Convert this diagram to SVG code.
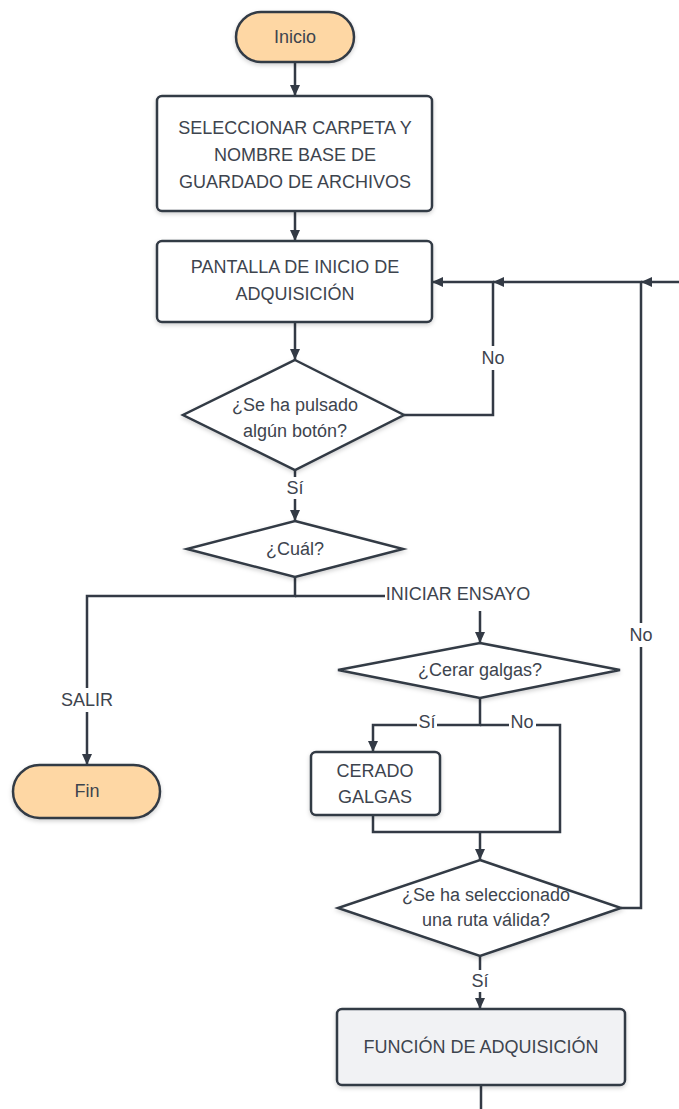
<svg xmlns="http://www.w3.org/2000/svg" width="679" height="1109" viewBox="0 0 679 1109">
  <style>
    .shape { fill: #ffffff; stroke: #333a45; stroke-width: 2.5; filter: url(#shadow); }
    .term { fill: #fed7a4; }
    .proc2 { fill: #f1f2f4; }
    .t { font-family: "Liberation Sans", Arial, sans-serif; font-size: 18px; fill: #3d444e; text-anchor: middle; }
    .conn path { fill: none; stroke: #333a45; stroke-width: 2.5; }
    .arrow { marker-end: url(#ah); }
    .lblbg { fill: #ffffff; }
  </style>
  <defs>
    <filter id="shadow" x="-10%" y="-10%" width="120%" height="130%">
      <feDropShadow dx="0" dy="2" stdDeviation="2" flood-color="#000000" flood-opacity="0.18"/>
    </filter>
    <marker id="ah" markerUnits="userSpaceOnUse" markerWidth="12" markerHeight="12" viewBox="0 0 12 12" refX="11" refY="6" orient="auto">
      <path d="M0,1 L11,6 L0,11 Z" fill="#333a45"/>
    </marker>
  </defs>

  <!-- connectors -->
  <g id="connectors" class="conn">
    <path class="arrow" d="M295,62 V96"/>
    <path class="arrow" d="M295,211 V241"/>
    <path class="arrow" d="M295,322 V360"/>
    <path class="arrow" d="M404,415 H493 V282 H432"/>
    <path class="arrow" d="M679,282 H641"/>
    <path class="arrow" d="M621,908 H641 V282 H493"/>
    <path class="arrow" d="M295,470 V521"/>
    <path class="arrow" d="M295,577 V596 H87 V765"/>
    <path class="arrow" d="M295,596 H480 V643"/>
    <path class="arrow" d="M480,698 V725 H373 V752"/>
    <path d="M480,725 H560 V832 H480"/>
    <path d="M373,815 V832 H480"/>
    <path class="arrow" d="M480,832 V860"/>
    <path class="arrow" d="M480,956 V1009"/>
    <path d="M481,1085 V1109"/>

    <!-- connector labels -->
    <rect class="lblbg" x="479" y="346" width="28" height="24"/>
    <text class="t" x="493" y="364">No</text>
    <rect class="lblbg" x="627" y="623" width="28" height="24"/>
    <text class="t" x="641" y="641">No</text>
    <rect class="lblbg" x="285" y="477" width="20" height="22"/>
    <text class="t" x="295" y="494">Sí</text>
    <rect class="lblbg" x="60" y="688" width="54" height="24"/>
    <text class="t" x="87" y="706">SALIR</text>
    <rect class="lblbg" x="385" y="583" width="147" height="28"/>
    <text class="t" x="458" y="600">INICIAR ENSAYO</text>
    <rect class="lblbg" x="417" y="712" width="20" height="22"/>
    <text class="t" x="427" y="728">Sí</text>
    <rect class="lblbg" x="509" y="712" width="27" height="22"/>
    <text class="t" x="522" y="728">No</text>
    <rect class="lblbg" x="470" y="970" width="20" height="22"/>
    <text class="t" x="480" y="987">Sí</text>
  </g>

  <g id="inicio">
    <rect class="shape term" x="236" y="12" width="118" height="50" rx="25"/>
    <text class="t" x="295" y="43">Inicio</text>
  </g>

  <g id="seleccionar">
    <rect class="shape" x="157" y="96" width="275" height="115" rx="5"/>
    <text class="t" x="295" y="134">SELECCIONAR CARPETA Y</text>
    <text class="t" x="295" y="161">NOMBRE BASE DE</text>
    <text class="t" x="295" y="188">GUARDADO DE ARCHIVOS</text>
  </g>

  <g id="pantalla">
    <rect class="shape" x="157" y="241" width="275" height="81" rx="5"/>
    <text class="t" x="295" y="273">PANTALLA DE INICIO DE</text>
    <text class="t" x="295" y="300">ADQUISICIÓN</text>
  </g>

  <g id="pulsado">
    <polygon class="shape" points="295,360 404,415 295,470 183,415"/>
    <text class="t" x="295" y="411">¿Se ha pulsado</text>
    <text class="t" x="295" y="437">algún botón?</text>
  </g>

  <g id="cual">
    <polygon class="shape" points="295,521 403,549 295,577 187,549"/>
    <text class="t" x="295" y="555">¿Cuál?</text>
  </g>

  <g id="fin">
    <rect class="shape term" x="13" y="765" width="147" height="53" rx="26.5"/>
    <text class="t" x="87" y="797">Fin</text>
  </g>

  <g id="cerar">
    <polygon class="shape" points="480,643 620,670 480,698 338,670"/>
    <text class="t" x="480" y="676">¿Cerar galgas?</text>
  </g>

  <g id="cerado">
    <rect class="shape" x="311" y="752" width="129" height="63" rx="5"/>
    <text class="t" x="375" y="777">CERADO</text>
    <text class="t" x="375" y="803">GALGAS</text>
  </g>

  <g id="ruta">
    <polygon class="shape" points="480,860 621,908 480,956 338,908"/>
    <text class="t" x="486" y="901">¿Se ha seleccionado</text>
    <text class="t" x="486" y="926">una ruta válida?</text>
  </g>

  <g id="adquisicion">
    <rect class="shape proc2" x="337" y="1009" width="288" height="76" rx="5"/>
    <text class="t" x="481" y="1053">FUNCIÓN DE ADQUISICIÓN</text>
  </g>
</svg>
